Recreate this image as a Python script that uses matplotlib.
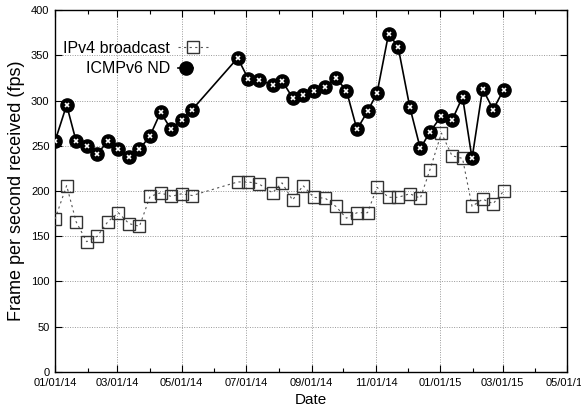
import matplotlib as mpl

mpl.use("Agg")
import matplotlib.pyplot as plt
import matplotlib.dates as mdates
import numpy as np
import pandas as pd
from matplotlib.legend_handler import HandlerTuple

plt.rcParams["font.family"] = ["Liberation Sans", "DejaVu Sans"]

# sample dates (shared by both series)
dates = pd.to_datetime([
    "2014-01-01", "2014-01-12", "2014-01-21", "2014-01-31", "2014-02-10",
    "2014-02-20", "2014-03-02", "2014-03-12", "2014-03-22", "2014-04-01",
    "2014-04-11", "2014-04-21", "2014-05-01", "2014-05-11",
    "2014-06-23", "2014-07-03", "2014-07-13", "2014-07-26", "2014-08-04",
    "2014-08-14", "2014-08-24", "2014-09-03", "2014-09-14", "2014-09-24",
    "2014-10-04", "2014-10-14", "2014-10-24", "2014-11-02", "2014-11-13",
    "2014-11-22", "2014-12-03", "2014-12-13", "2014-12-22", "2015-01-02",
    "2015-01-12", "2015-01-22", "2015-01-31", "2015-02-10", "2015-02-20",
    "2015-03-02",
])

ipv4_fps = [
    169, 206, 166, 144, 150, 166, 176, 164, 161, 194, 198, 194, 197, 195,
    210, 210, 208, 198, 209, 190, 206, 193, 192, 183, 170, 176, 176, 204,
    193, 193, 197, 192, 223, 264, 239, 236, 183, 191, 186, 200,
]
icmpv6_fps = [
    255, 295, 255, 250, 241, 255, 246, 238, 246, 261, 287, 268, 279, 290,
    347, 324, 323, 317, 322, 303, 306, 311, 315, 325, 311, 268, 288, 308,
    374, 359, 293, 247, 265, 283, 278, 304, 236, 313, 290, 312,
]

xlim = pd.to_datetime(["2014-01-01", "2015-05-01"])

fig = plt.figure(figsize=(5.81, 4.12), dpi=100)
ax = fig.add_axes([0.0947, 0.0971, 0.8813, 0.8786])

# IPv4 broadcast: hollow squares, dotted line
l_v4, = ax.plot(dates, ipv4_fps, color="#555555", lw=0.8, ls=(0, (2, 3)),
                marker="s", ms=8, mfc="none", mec="#333333", mew=1.0, zorder=3)

# ICMPv6 ND: black circles with white pattern
l_v6, = ax.plot(dates, icmpv6_fps, color="black", lw=1.2,
                marker="o", ms=9.5, mfc="black", mec="black", zorder=4)
l_v6x, = ax.plot(dates, icmpv6_fps, ls="none", marker="x", ms=3.5,
                 mec="white", mew=1.2, zorder=5)

ax.set_xlim(xlim[0], xlim[1])
ax.set_ylim(0, 400)
ax.set_yticks(np.arange(0, 401, 50))

ax.xaxis.set_major_locator(mdates.MonthLocator(bymonth=[1, 3, 5, 7, 9, 11]))
ax.xaxis.set_minor_locator(mdates.MonthLocator())
ax.xaxis.set_major_formatter(mdates.DateFormatter("%m/%d/%y"))

ax.tick_params(which="both", direction="in", top=True, right=True,
               labelsize=8, width=0.8)
ax.tick_params(which="major", length=5, pad=4)
ax.tick_params(which="minor", length=3)

ax.grid(True, which="major", color="#999999", ls=(0, (1, 1.5)), lw=0.7)
for s in ax.spines.values():
    s.set_linewidth(1.0)

ax.set_xlabel("Date", fontsize=11, labelpad=4)
ax.set_ylabel("Frame per second received (fps)", fontsize=13, labelpad=4)

ax.legend([l_v4, (l_v6, l_v6x)], ["IPv4 broadcast", "ICMPv6 ND"],
          handler_map={tuple: HandlerTuple(ndivide=None, pad=0)},
          loc="upper left", bbox_to_anchor=(0.004, 0.932), frameon=False,
          markerfirst=False, fontsize=11.5, handlelength=2.0,
          labelspacing=0.32, borderaxespad=0.0, handletextpad=0.45)

fig.savefig("out.png", dpi=100)
